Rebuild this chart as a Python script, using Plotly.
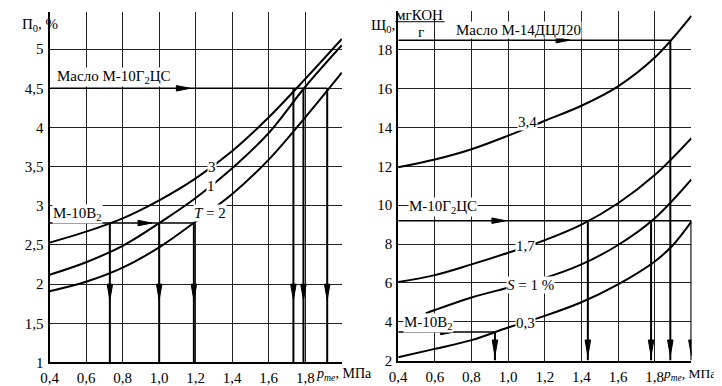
import plotly.graph_objects as go

W, H = 722, 386
FONT = "'Liberation Serif', 'Times New Roman', 'DejaVu Serif', serif"

# ---------------- data ----------------
x_grid = [0.4, 0.6, 0.8, 1.0, 1.2, 1.4, 1.6, 1.8, 2.0]

# Left chart: П0, % vs p_me (curves for T = 3, 1, 2)
left_T3 = [2.53, 2.67, 2.84, 3.07, 3.35, 3.70, 4.13, 4.62, 5.13]
left_T1 = [2.12, 2.28, 2.49, 2.78, 3.10, 3.48, 3.93, 4.52, 5.05]
left_T2 = [1.91, 2.03, 2.21, 2.47, 2.80, 3.15, 3.59, 4.13, 4.70]

# Right chart: Щ0, мгКОН/г vs p_me (curves for S = 3.4, 1.7, 1, 0.3 %)
right_S34 = [11.95, 12.35, 12.88, 13.58, 14.35, 15.12, 16.12, 17.6, 19.75]
right_S17 = [6.05, 6.40, 6.95, 7.55, 8.20, 9.00, 10.10, 11.55, 13.45]
right_S1_x = [0.55, 0.6, 0.8, 1.0, 1.2, 1.4, 1.6, 1.8, 2.0]
right_S1 = [4.42, 4.60, 5.25, 5.75, 6.25, 6.95, 7.95, 9.33, 11.33]
right_S03_x = [0.4, 0.6, 0.8, 1.0, 1.2, 1.4, 1.6, 1.8, 1.9, 2.0]
right_S03 = [2.17, 2.60, 3.05, 3.70, 4.30, 5.00, 5.92, 7.10, 7.95, 9.15]

# Reading lines (oil level, intersections with curves, horizontal arrow tip)
left_levels = [4.5, 2.78]
left_cross_x = [[1.735, 1.79, 1.92], [0.73, 1.0, 1.19]]
left_harrow_tip = [1.17, 0.96]

right_levels = [18.5, 9.2, 3.47]
right_cross_x = [[1.885], [1.435, 1.78, 2.0], [0.928]]
right_harrow_tip = [1.337, 0.987, 0.707]

x_tickvals = [0.4, 0.6, 0.8, 1.0, 1.2, 1.4, 1.6, 1.8, 2.0]
x_ticktext = ["0,4", "0,6", "0,8", "1,0", "1,2", "1,4", "1,6", "1,8", ""]
left_yvals = [1, 1.5, 2, 2.5, 3, 3.5, 4, 4.5, 5]
left_ytext = ["1", "1,5", "2", "2,5", "3", "3,5", "4", "4,5", "5"]
right_yvals = [2, 4, 6, 8, 10, 12, 14, 16, 18]
right_ytext = ["2", "4", "6", "8", "10", "12", "14", "16", "18"]

# ---------------- layout geometry ----------------
L_dom_x = [33 / W, 329 / W]
L_dom_y = [24 / H, 382 / H]
R_dom_x = [386 / W, 683 / W]
R_dom_y = [26 / H, 383 / H]
X_RANGE = [0.4, 2.0005]
L_YR = [1, 1 + 358 / 80]
R_YR = [2, 2 + 357 / 19.83]


def px_scale(dom_x, dom_y, xr, yr):
    pxx = (dom_x[1] - dom_x[0]) * W / (xr[1] - xr[0])
    pxy = (dom_y[1] - dom_y[0]) * H / (yr[1] - yr[0])
    return pxx, pxy


fig = go.Figure()


def curve(x, y, xa, ya):
    fig.add_trace(go.Scatter(x=x, y=y, mode="lines", xaxis=xa, yaxis=ya,
                             line=dict(color="black", width=2, shape="spline"),
                             hoverinfo="skip", showlegend=False))


def reading(levels, cross, tips, xmin, ymin, tip_y, xa, ya, scale):
    pxx, pxy = scale
    hx, hy, vx, vy, tx, ty = [], [], [], [], [], []
    for lev, xs, tip in zip(levels, cross, tips):
        hx += [xmin, max(xs), None]
        hy += [lev, lev, None]
        ln, hw = 14 / pxx, 2.8 / pxy
        tx += [tip - ln, tip, tip - ln, tip - ln, None]
        ty += [lev + hw, lev, lev - hw, lev + hw, None]
        for xc in xs:
            vx += [xc, xc, None]
            vy += [lev, ymin, None]
            ln2, hw2 = 16 / pxy, 2.8 / pxx
            tx += [xc - hw2, xc + hw2, xc, xc - hw2, None]
            ty += [tip_y + ln2, tip_y + ln2, tip_y, tip_y + ln2, None]
    fig.add_trace(go.Scatter(x=hx, y=hy, mode="lines", xaxis=xa, yaxis=ya,
                             line=dict(color="black", width=1.5),
                             hoverinfo="skip", showlegend=False))
    fig.add_trace(go.Scatter(x=vx, y=vy, mode="lines", xaxis=xa, yaxis=ya,
                             line=dict(color="black", width=2),
                             hoverinfo="skip", showlegend=False))
    fig.add_trace(go.Scatter(x=tx, y=ty, mode="lines", xaxis=xa, yaxis=ya,
                             fill="toself", fillcolor="black",
                             line=dict(color="black", width=1),
                             hoverinfo="skip", showlegend=False))


Ls = px_scale(L_dom_x, L_dom_y, X_RANGE, L_YR)
Rs = px_scale(R_dom_x, R_dom_y, X_RANGE, R_YR)

reading(left_levels, left_cross_x, left_harrow_tip, 0.4, L_YR[0], 1.8, "x", "y", Ls)
reading(right_levels, right_cross_x, right_harrow_tip, 0.4, R_YR[0], 2.25, "x2", "y2", Rs)

curve(x_grid, left_T3, "x", "y")
curve(x_grid, left_T1, "x", "y")
curve(x_grid, left_T2, "x", "y")
curve(x_grid, right_S34, "x2", "y2")
curve(x_grid, right_S17, "x2", "y2")
curve(right_S1_x, right_S1, "x2", "y2")
curve(right_S03_x, right_S03, "x2", "y2")

axis_common = dict(showgrid=True, gridcolor="#222", gridwidth=1,
                   showline=True, linecolor="black", linewidth=2,
                   zeroline=False, ticks="outside", ticklen=1,
                   tickcolor="rgba(0,0,0,0)",
                   tickfont=dict(family=FONT, size=15, color="black"))

fig.update_layout(
    width=W, height=H, margin=dict(l=0, r=0, t=0, b=0),
    paper_bgcolor="white", plot_bgcolor="white", showlegend=False,
    font=dict(family=FONT, size=15, color="black"),
    xaxis=dict(domain=L_dom_x, range=X_RANGE, tickvals=x_tickvals,
               ticktext=x_ticktext, anchor="y", **axis_common),
    yaxis=dict(domain=L_dom_y, range=L_YR, tickvals=left_yvals,
               ticktext=left_ytext, anchor="x", **axis_common),
    xaxis2=dict(domain=R_dom_x, range=X_RANGE, tickvals=x_tickvals,
                ticktext=x_ticktext, anchor="y2", **axis_common),
    yaxis2=dict(domain=R_dom_y, range=R_YR, tickvals=right_yvals,
                ticktext=right_ytext, anchor="x2", **axis_common),
)

ann = []


def label(text, x, y, xref, yref, size=15, bg="white", xanchor="center"):
    d = dict(text=text, x=x, y=y, xref=xref, yref=yref, showarrow=False,
             font=dict(family=FONT, size=size, color="black"),
             borderpad=0, xanchor=xanchor, yanchor="middle")
    if bg:
        d["bgcolor"] = bg
    ann.append(d)


# left chart labels
label("Масло М-10Г<sub>2</sub>ЦС", 0.751, 4.64, "x", "y")
label("М-10В<sub>2</sub>", 0.554, 2.90, "x", "y")
label("3", 1.29, 3.50, "x", "y")
label("1", 1.285, 3.25, "x", "y")
label("<i>T</i> = 2", 1.276, 2.91, "x", "y")

# right chart labels
label("Масло М-14ДЦЛ20", 1.057, 19.0, "x2", "y2")
label("М-10Г<sub>2</sub>ЦС", 0.642, 9.93, "x2", "y2")
label("М-10В<sub>2</sub>", 0.567, 3.93, "x2", "y2")
label("3,4", 1.104, 14.27, "x2", "y2")
label("1,7", 1.095, 7.88, "x2", "y2")
label("<i>S</i> = 1 %", 1.12, 5.87, "x2", "y2")
label("0,3", 1.095, 3.93, "x2", "y2")

# axis titles
label("П<sub>0</sub>, %", 4 / W, 1 - 17 / H, "paper", "paper", bg=None, xanchor="left")
label("Щ<sub>0</sub>,", 357 / W, 1 - 18 / H, "paper", "paper", bg=None, xanchor="left")
label("мгКОН", 408 / W, 1 - 7 / H, "paper", "paper", bg=None)
label("г", 409 / W, 1 - 24 / H, "paper", "paper", bg=None)
label("<i>p</i><sub><i>me</i></sub>, МПа", 302 / W, 1 - 374 / H, "paper", "paper",
      size=14, bg=None, xanchor="left")
label("<i>p</i><sub><i>me</i></sub>, МПа", 653 / W, 1 - 374 / H, "paper", "paper",
      size=13.5, bg=None, xanchor="left")

fig.update_layout(annotations=ann)

fig.add_shape(type="line", xref="paper", yref="paper",
              x0=383 / W, x1=433 / W, y0=1 - 14 / H, y1=1 - 14 / H,
              line=dict(color="black", width=1))

fig.write_html("out.html")
